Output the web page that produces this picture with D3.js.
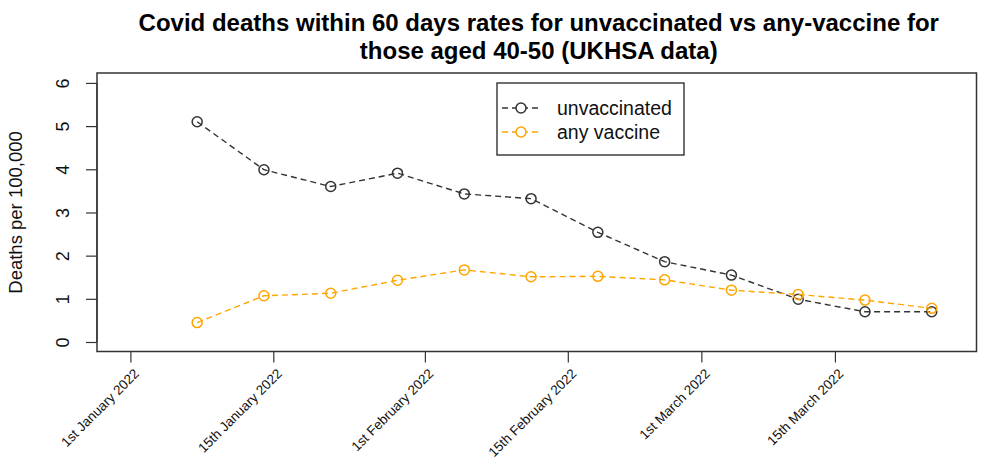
<!DOCTYPE html>
<html><head><meta charset="utf-8">
<script src="https://cdn.jsdelivr.net/npm/d3@7"></script>
<style>
body{margin:0;background:#fff;}
svg{font-family:"Liberation Sans",Arial,sans-serif;}
</style></head>
<body><svg id="c" width="1004" height="473"></svg>
<script>
// Data (weekly points, index 1..12)
const weekIndex = [1,2,3,4,5,6,7,8,9,10,11,12];
const unvaccinated = [5.10, 3.99, 3.60, 3.91, 3.43, 3.32, 2.54, 1.86, 1.55, 0.99, 0.70, 0.70];
const anyVaccine   = [0.45, 1.07, 1.13, 1.43, 1.67, 1.51, 1.52, 1.44, 1.20, 1.10, 0.97, 0.78];
const xTickPos    = [0.0, 2.14, 4.41, 6.55, 8.55, 10.55];
const xTickLabels = ["1st January 2022","15th January 2022","1st February 2022","15th February 2022","1st March 2022","15th March 2022"];
const yTicks = [0,1,2,3,4,5,6];
const seriesNames = ["unvaccinated","any vaccine"];
const seriesColors = ["#333333","#FFA500"];

const svg = d3.select("#c");
const L=97, R=976.5, T=73, B=351.5;
const x = d3.scaleLinear().domain([-0.5,12.67]).range([L,R]);
const y = d3.scaleLinear().domain([-0.22,6.23]).range([B,T]);

// title
const title = svg.append("text").attr("x",(L+R)/2).attr("text-anchor","middle")
  .style("font-weight","bold").style("font-size","24px").attr("fill","#000");
title.append("tspan").attr("x",(L+R)/2+2).attr("y",31).text("Covid deaths within 60 days rates for unvaccinated vs any-vaccine for");
title.append("tspan").attr("x",(L+R)/2+2).attr("y",59).text("those aged 40-50 (UKHSA data)");

// box
svg.append("rect").attr("x",L).attr("y",T).attr("width",R-L).attr("height",B-T)
  .attr("fill","none").attr("stroke","#333").attr("stroke-width",1.5);

// y axis
const yAxis = svg.append("g").attr("transform",`translate(${L},0)`)
  .call(d3.axisLeft(y).tickValues(yTicks).tickSize(11).tickFormat(d3.format("d")));
yAxis.select(".domain").attr("d",`M0,${y(0)}V${y(6)}`).attr("stroke","#333").attr("stroke-width",1.2);
yAxis.selectAll(".tick line").attr("stroke","#333").attr("stroke-width",1.2);
yAxis.selectAll(".tick text").attr("x",null).attr("dy",null)
  .attr("transform","translate(-28,0) rotate(-90)")
  .attr("text-anchor","middle").attr("y",0)
  .style("font-size","18px").style("font-family","Liberation Sans, Arial, sans-serif").attr("fill","#111");

// x axis
const xAxis = svg.append("g").attr("transform",`translate(0,${B})`)
  .call(d3.axisBottom(x).tickValues(xTickPos).tickSize(11).tickFormat((d,i)=>xTickLabels[i]));
xAxis.select(".domain").attr("d",`M${x(xTickPos[0])},0H${x(xTickPos[xTickPos.length-1])}`).attr("stroke","#333").attr("stroke-width",1.2);
xAxis.selectAll(".tick line").attr("stroke","#333").attr("stroke-width",1.2);
xAxis.selectAll(".tick text").attr("y",null).attr("dy",null)
  .attr("transform","translate(9,23) rotate(-45)")
  .attr("text-anchor","end")
  .style("font-size","13.5px").style("font-family","Liberation Sans, Arial, sans-serif").attr("fill","#111");

// y label
svg.append("text").attr("transform",`translate(22,${y(3)}) rotate(-90)`)
  .attr("text-anchor","middle").style("font-size","18.5px").attr("fill","#111").text("Deaths per 100,000");

// series
const line = d3.line().x((d,i)=>x(weekIndex[i])).y(d=>y(d));
[unvaccinated, anyVaccine].forEach((vals,k)=>{
  svg.append("path").datum(vals).attr("d",line).attr("fill","none")
    .attr("stroke",seriesColors[k]).attr("stroke-width",1.4).attr("stroke-dasharray","6,4");
  svg.append("g").selectAll("circle").data(vals).join("circle")
    .attr("cx",(d,i)=>x(weekIndex[i])).attr("cy",d=>y(d)).attr("r",5)
    .attr("fill","none").attr("stroke",seriesColors[k]).attr("stroke-width",1.5);
});

// legend
const lg = svg.append("g");
lg.append("rect").attr("x",497).attr("y",83).attr("width",187).attr("height",72)
  .attr("fill","#fff").attr("stroke","#222").attr("stroke-width",1.3);
seriesNames.forEach((n,k)=>{
  const cy = 108 + k*24;
  lg.append("line").attr("x1",502).attr("x2",540).attr("y1",cy).attr("y2",cy)
    .attr("stroke",seriesColors[k]).attr("stroke-width",1.4).attr("stroke-dasharray","6,4");
  lg.append("circle").attr("cx",521).attr("cy",cy).attr("r",5).attr("fill","#fff")
    .attr("stroke",seriesColors[k]).attr("stroke-width",1.5);
  lg.append("text").attr("x",557).attr("y",cy+7).style("font-size","19.5px").attr("fill","#111").text(n);
});
</script></body></html>
